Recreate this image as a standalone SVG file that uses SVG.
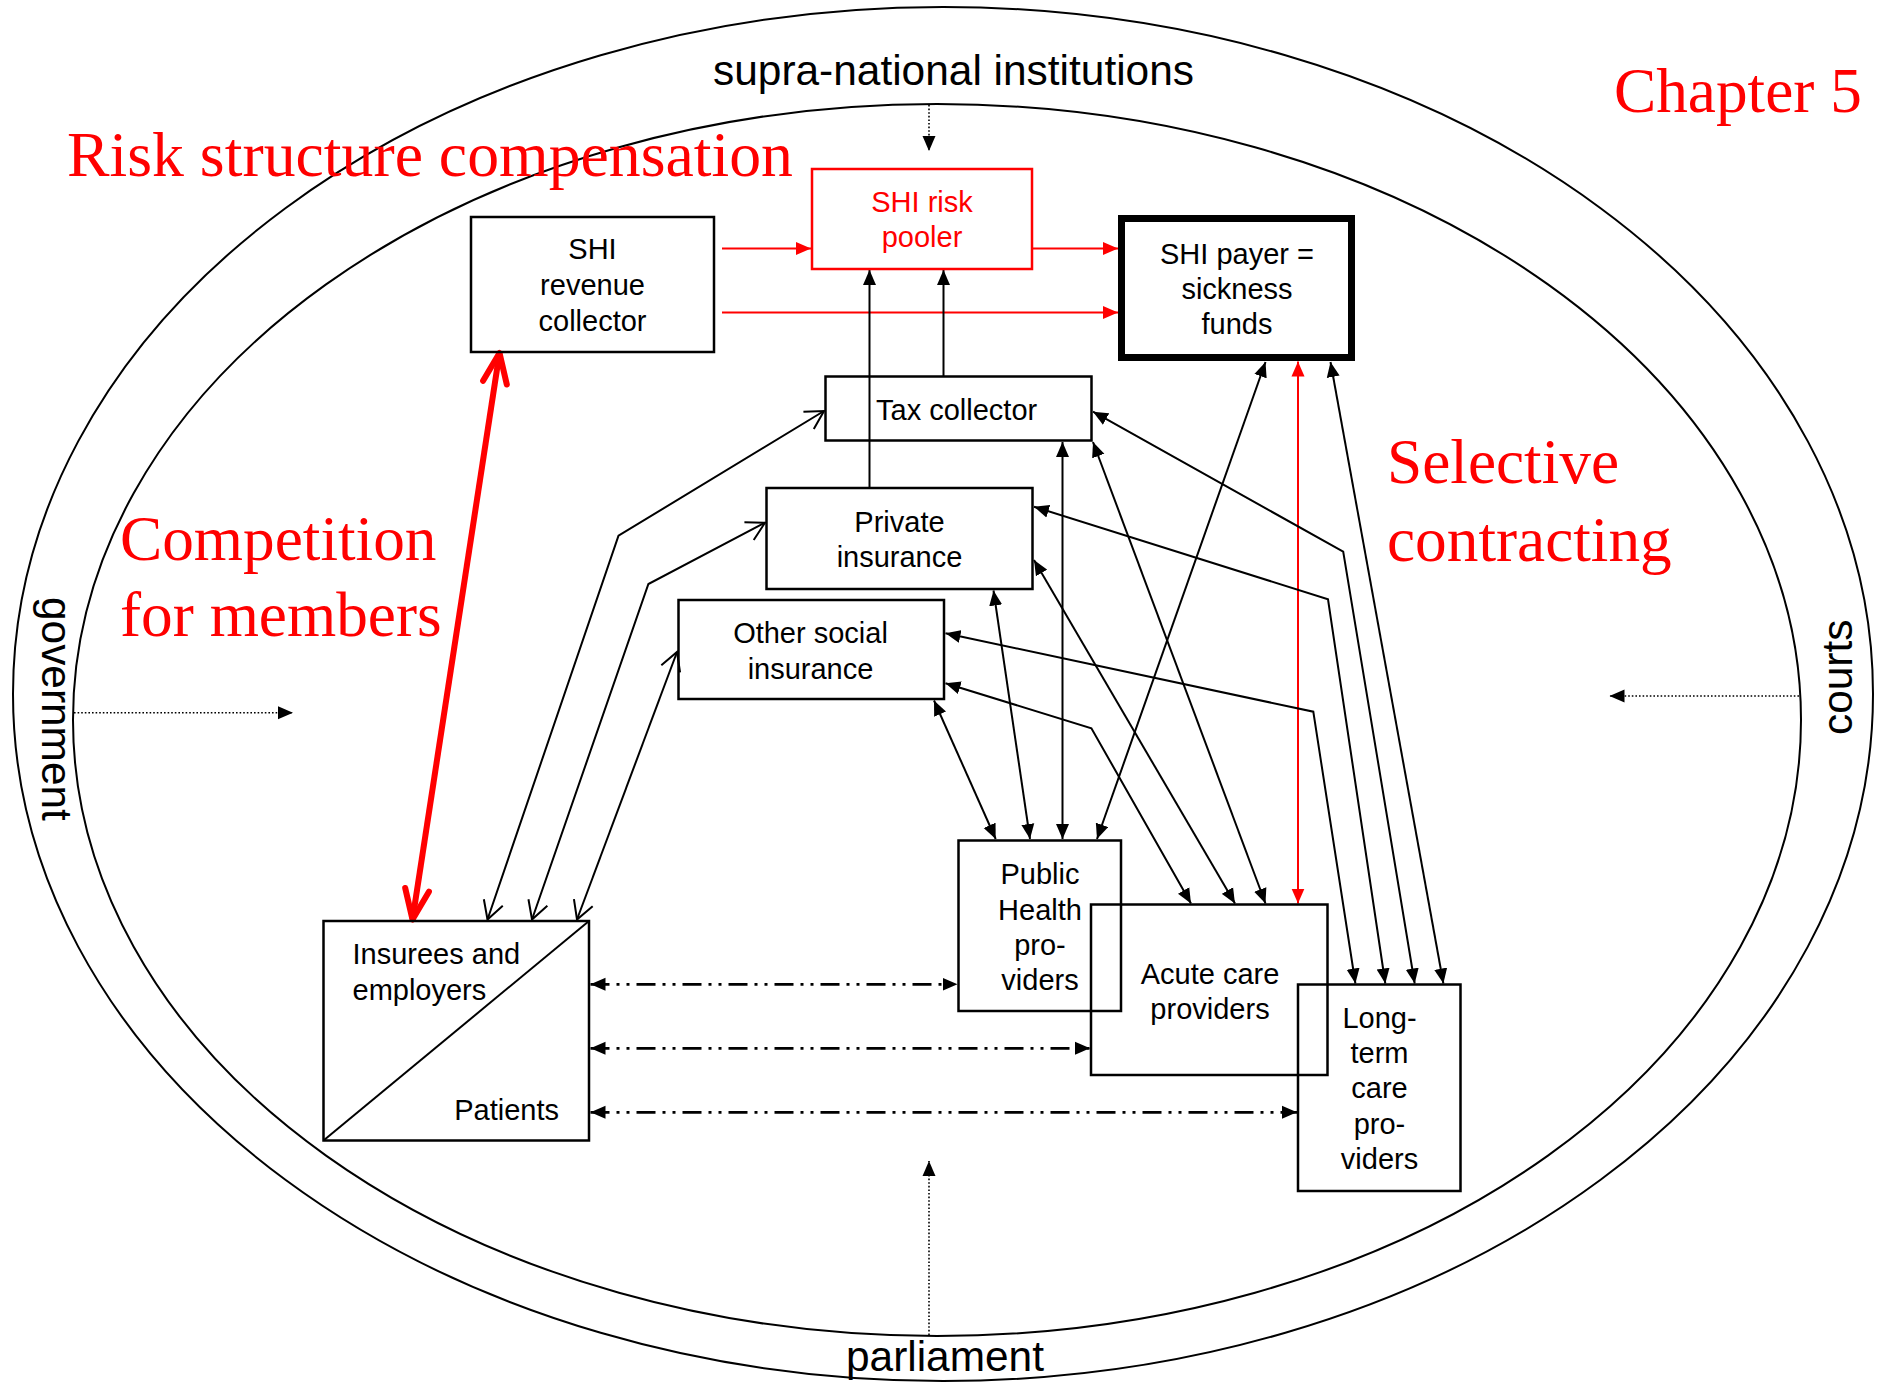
<svg xmlns="http://www.w3.org/2000/svg" width="1883" height="1382" viewBox="0 0 1883 1382">
<style>
.bg{fill:#fff}
.box{fill:none;stroke:#000;stroke-width:2.5}
.rbox{fill:none;stroke:#f00;stroke-width:2.5}
.thick{fill:none;stroke:#000;stroke-width:7}
.t{font-family:"Liberation Sans",Arial,Helvetica,sans-serif;font-size:29px;fill:#000}
.tm{text-anchor:middle}
.rt{fill:#f00}
.lab{font-family:"Liberation Sans",Arial,Helvetica,sans-serif;font-size:42.4px;fill:#000}
.big{font-family:"Liberation Serif","Times New Roman",serif;font-size:63.3px;fill:#f00}
.ell{fill:none;stroke:#000;stroke-width:2}
.c{fill:none;stroke:#000;stroke-width:2}
.cr{fill:none;stroke:#f00;stroke-width:2}
.dd{fill:none;stroke:#000;stroke-width:2.7;stroke-dasharray:19 7 3 7 3 7}
.dot{fill:none;stroke:#000;stroke-width:1.6;stroke-dasharray:1.6 2}
</style>
<defs>
<marker id="ah" markerUnits="userSpaceOnUse" markerWidth="16" markerHeight="14" refX="15" refY="7" orient="auto-start-reverse" viewBox="0 0 16 14"><path d="M0,0.5 L15,7 L0,13.5 z" fill="#000"/></marker>
<marker id="ahr" markerUnits="userSpaceOnUse" markerWidth="16" markerHeight="14" refX="15" refY="7" orient="auto-start-reverse" viewBox="0 0 16 14"><path d="M0,0.5 L15,7 L0,13.5 z" fill="#f00"/></marker>
<marker id="oh" markerUnits="userSpaceOnUse" markerWidth="22" markerHeight="24" refX="20" refY="12" orient="auto-start-reverse" viewBox="0 0 22 24"><path d="M2,2 L20,12 L2,22" fill="none" stroke="#000" stroke-width="2"/></marker>
<marker id="ohr" markerUnits="userSpaceOnUse" markerWidth="40" markerHeight="34" refX="34" refY="17" orient="auto-start-reverse" viewBox="0 0 40 34"><path d="M4,5 L34,17 L4,29" fill="none" stroke="#f00" stroke-width="6" stroke-linecap="round" stroke-linejoin="round"/></marker>
</defs>
<rect class="bg" x="0" y="0" width="1883" height="1382"/>

<g id="frame">
<ellipse class="ell" cx="943" cy="694" rx="930" ry="687"/>
<ellipse class="ell" cx="937" cy="720" rx="864" ry="616"/>
</g>

<g id="labels">
<text class="lab" x="713" y="85" textLength="481" lengthAdjust="spacingAndGlyphs">supra-national institutions</text>
<text class="lab" transform="translate(41.7,597) rotate(90)">government</text>
<text class="lab" transform="translate(1852,735) rotate(-90)">courts</text>
<text class="lab" x="846" y="1371">parliament</text>
<text class="big" x="67" y="176" textLength="726" lengthAdjust="spacingAndGlyphs">Risk structure compensation</text>
<text class="big" x="1614" y="112">Chapter 5</text>
<text class="big" x="120" y="560">Competition</text>
<text class="big" x="120" y="636">for members</text>
<text class="big" x="1387" y="483">Selective</text>
<text class="big" x="1387" y="561">contracting</text>
</g>

<g id="connectors">
<!-- institutional dotted arrows -->
<line class="dot" x1="929" y1="105" x2="929" y2="151" marker-end="url(#ah)"/>
<line class="dot" x1="74" y1="712.7" x2="293" y2="712.7" marker-end="url(#ah)"/>
<line class="dot" x1="1799" y1="696" x2="1609.5" y2="696" marker-end="url(#ah)"/>
<line class="dot" x1="929" y1="1335" x2="929" y2="1161" marker-end="url(#ah)"/>
<!-- red financing flows -->
<line class="cr" x1="722" y1="248.5" x2="811" y2="248.5" marker-end="url(#ahr)"/>
<line class="cr" x1="1033" y1="248.5" x2="1118" y2="248.5" marker-end="url(#ahr)"/>
<line class="cr" x1="722" y1="312.5" x2="1118" y2="312.5" marker-end="url(#ahr)"/>
<line class="cr" x1="1298" y1="361.5" x2="1298" y2="903.5" marker-start="url(#ahr)" marker-end="url(#ahr)"/>
<!-- to pooler -->
<line class="c" x1="869.5" y1="488" x2="869.5" y2="270" marker-end="url(#ah)"/>
<line class="c" x1="943.5" y1="376.5" x2="943.5" y2="270" marker-end="url(#ah)"/>
<!-- competition for members (red) -->
<line x1="499.5" y1="353" x2="412.5" y2="919.5" stroke="#f00" stroke-width="6" marker-start="url(#ohr)" marker-end="url(#ohr)"/>
<!-- insurees open arrows -->
<polyline class="c" points="487.5,919.5 618.5,535.7 824,411" marker-start="url(#oh)" marker-end="url(#oh)"/>
<polyline class="c" points="532,919.5 648.4,584 765,522.7" marker-start="url(#oh)" marker-end="url(#oh)"/>
<polyline class="c" points="577,919.5 677,652" marker-start="url(#oh)" marker-end="url(#oh)"/>
<!-- public health -->
<line class="c" x1="934" y1="700.5" x2="995.7" y2="839" marker-start="url(#ah)" marker-end="url(#ah)"/>
<line class="c" x1="993.5" y1="590.5" x2="1030" y2="839" marker-start="url(#ah)" marker-end="url(#ah)"/>
<line class="c" x1="1062.5" y1="442" x2="1062.5" y2="839" marker-start="url(#ah)" marker-end="url(#ah)"/>
<line class="c" x1="1265.5" y1="362" x2="1097" y2="839" marker-start="url(#ah)" marker-end="url(#ah)"/>
<!-- acute care -->
<polyline class="c" points="945.5,683.3 1091.4,728.3 1191,903.5" marker-start="url(#ah)" marker-end="url(#ah)"/>
<line class="c" x1="1034" y1="560" x2="1235" y2="903.5" marker-start="url(#ah)" marker-end="url(#ah)"/>
<line class="c" x1="1093" y1="442" x2="1265.5" y2="903.5" marker-start="url(#ah)" marker-end="url(#ah)"/>
<!-- long-term care -->
<polyline class="c" points="945.5,633.3 1313.3,711.7 1355.4,983.5" marker-start="url(#ah)" marker-end="url(#ah)"/>
<polyline class="c" points="1034,506.7 1328,599.3 1385.3,983.5" marker-start="url(#ah)" marker-end="url(#ah)"/>
<polyline class="c" points="1093,411.7 1343.2,551.7 1414.7,983.5" marker-start="url(#ah)" marker-end="url(#ah)"/>
<line class="c" x1="1330.5" y1="362" x2="1443.4" y2="983.5" marker-start="url(#ah)" marker-end="url(#ah)"/>
<!-- patients to providers -->
<line class="dd" x1="590.5" y1="984.3" x2="957.5" y2="984.3" marker-start="url(#ah)" marker-end="url(#ah)"/>
<line class="dd" x1="590.5" y1="1048.3" x2="1090" y2="1048.3" marker-start="url(#ah)" marker-end="url(#ah)"/>
<line class="dd" x1="590.5" y1="1112.3" x2="1297" y2="1112.3" marker-start="url(#ah)" marker-end="url(#ah)"/>
</g>

<g id="shi-revenue-collector">
<rect class="box" x="471" y="217" width="243" height="135"/>
<text class="t tm" x="592.5" y="259">SHI</text>
<text class="t tm" x="592.5" y="295">revenue</text>
<text class="t tm" x="592.5" y="331">collector</text>
</g>

<g id="shi-risk-pooler">
<rect class="rbox" x="812" y="169" width="220" height="100"/>
<text class="t tm rt" x="922" y="212">SHI risk</text>
<text class="t tm rt" x="922" y="247">pooler</text>
</g>

<g id="shi-payer">
<rect class="thick" x="1121.5" y="218.5" width="230" height="139"/>
<text class="t tm" x="1237" y="264">SHI payer =</text>
<text class="t tm" x="1237" y="299">sickness</text>
<text class="t tm" x="1237" y="334">funds</text>
</g>

<g id="tax-collector">
<rect class="box" x="825.5" y="376.5" width="266" height="64"/>
<text class="t" x="876" y="420">Tax collector</text>
</g>

<g id="private-insurance">
<rect class="box" x="766.5" y="488" width="266" height="101"/>
<text class="t tm" x="899.5" y="532">Private</text>
<text class="t tm" x="899.5" y="567">insurance</text>
</g>

<g id="other-social-insurance">
<rect class="box" x="678.5" y="600" width="265.5" height="99"/>
<text class="t tm" x="810.5" y="643">Other social</text>
<text class="t tm" x="810.5" y="679">insurance</text>
</g>

<g id="insurees-patients">
<rect class="box" x="323.5" y="921" width="265.5" height="219.5"/>
<line x1="323.5" y1="1140.5" x2="589" y2="921" stroke="#000" stroke-width="2"/>
<text class="t" x="352.5" y="964">Insurees and</text>
<text class="t" x="352.5" y="1000">employers</text>
<text class="t" x="559" y="1120" text-anchor="end">Patients</text>
</g>

<g id="public-health-providers">
<rect class="box" x="958.5" y="840.5" width="162.5" height="170.5"/>
<text class="t tm" x="1040" y="884">Public</text>
<text class="t tm" x="1040" y="920">Health</text>
<text class="t tm" x="1040" y="955">pro-</text>
<text class="t tm" x="1040" y="990">viders</text>
</g>

<g id="acute-care-providers">
<rect class="box" x="1091" y="904.5" width="236.5" height="170.5"/>
<text class="t tm" x="1210" y="984">Acute care</text>
<text class="t tm" x="1210" y="1019">providers</text>
</g>

<g id="long-term-care-providers">
<rect class="box" x="1298" y="984.5" width="162.5" height="206.5"/>
<text class="t tm" x="1379.5" y="1028">Long-</text>
<text class="t tm" x="1379.5" y="1063">term</text>
<text class="t tm" x="1379.5" y="1098">care</text>
<text class="t tm" x="1379.5" y="1134">pro-</text>
<text class="t tm" x="1379.5" y="1169">viders</text>
</g>
</svg>
